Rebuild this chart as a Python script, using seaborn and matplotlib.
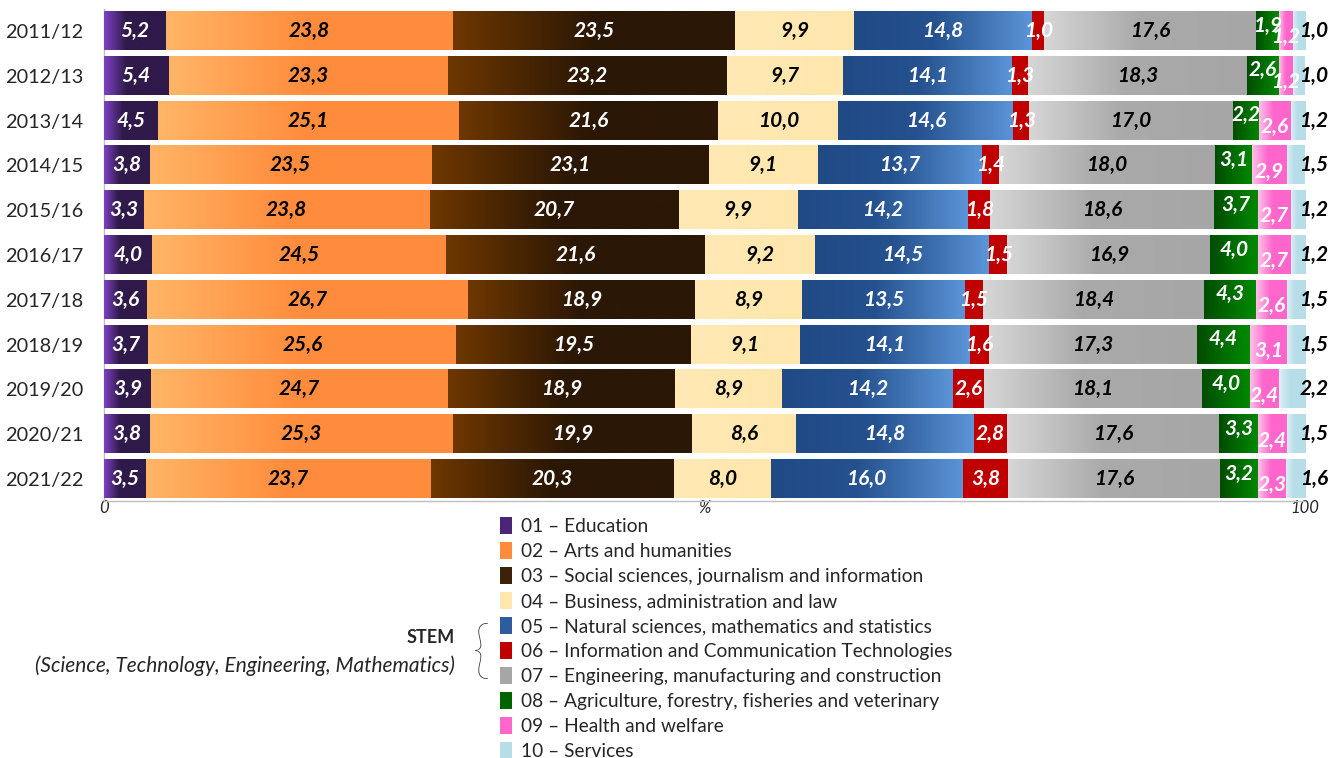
#!/usr/bin/env python3
"""
Students by field of education, 2011/12 - 2021/22 (100% stacked bars)
"""
import numpy as np
import pandas as pd
import matplotlib
matplotlib.use("Agg")
import matplotlib.pyplot as plt
from matplotlib.colors import LinearSegmentedColormap
from matplotlib.patches import Patch
import seaborn as sns

# --- data (shares in %) ---
years = ["2011/12", "2012/13", "2013/14", "2014/15", "2015/16", "2016/17",
         "2017/18", "2018/19", "2019/20", "2020/21", "2021/22"]

education   = [5.2, 5.4, 4.5, 3.8, 3.3, 4.0, 3.6, 3.7, 3.9, 3.8, 3.5]
arts        = [23.8, 23.3, 25.1, 23.5, 23.8, 24.5, 26.7, 25.6, 24.7, 25.3, 23.7]
social      = [23.5, 23.2, 21.6, 23.1, 20.7, 21.6, 18.9, 19.5, 18.9, 19.9, 20.3]
business    = [9.9, 9.7, 10.0, 9.1, 9.9, 9.2, 8.9, 9.1, 8.9, 8.6, 8.0]
natural     = [14.8, 14.1, 14.6, 13.7, 14.2, 14.5, 13.5, 14.1, 14.2, 14.8, 16.0]
ict         = [1.0, 1.3, 1.3, 1.4, 1.8, 1.5, 1.5, 1.6, 2.6, 2.8, 3.8]
engineering = [17.6, 18.3, 17.0, 18.0, 18.6, 16.9, 18.4, 17.3, 18.1, 17.6, 17.6]
agriculture = [1.9, 2.6, 2.2, 3.1, 3.7, 4.0, 4.3, 4.4, 4.0, 3.3, 3.2]
health      = [1.2, 1.2, 2.6, 2.9, 2.7, 2.7, 2.6, 3.1, 2.4, 2.4, 2.3]
services    = [1.0, 1.0, 1.2, 1.5, 1.2, 1.2, 1.5, 1.5, 2.2, 1.5, 1.6]

fields = ["01 – Education",
          "02 – Arts and humanities",
          "03 – Social sciences, journalism and information",
          "04 – Business, administration and law",
          "05 – Natural sciences, mathematics and statistics",
          "06 – Information and Communication Technologies",
          "07 – Engineering, manufacturing and construction",
          "08 – Agriculture, forestry, fisheries and veterinary",
          "09 – Health and welfare",
          "10 – Services"]

df = pd.DataFrame({
    fields[0]: education, fields[1]: arts, fields[2]: social,
    fields[3]: business, fields[4]: natural, fields[5]: ict,
    fields[6]: engineering, fields[7]: agriculture, fields[8]: health,
    fields[9]: services,
}, index=years)

# --- styling ---
# gradient stops (position, colour) per field, left -> right within a segment
stops = {
    fields[0]: [(0, "#7E42C4"), (0.35, "#2F1A4A"), (1, "#2F1A4A")],
    fields[1]: [(0, "#FFB566"), (0.5, "#FF8C3C"), (1, "#FF8C3C")],
    fields[2]: [(0, "#6E3700"), (0.5, "#2B1705"), (1, "#2B1705")],
    fields[3]: [(0, "#FFE9B4"), (1, "#FFE6AC")],
    fields[4]: [(0, "#1F4A85"), (0.45, "#25518F"), (1, "#5B95D8")],
    fields[5]: [(0, "#C00000"), (1, "#C00000")],
    fields[6]: [(0, "#D6D6D6"), (0.45, "#AAAAAA"), (1, "#A6A6A6")],
    fields[7]: [(0, "#004C00"), (0.5, "#006C00"), (1, "#008A00")],
    fields[8]: [(0, "#FFC2EA"), (0.45, "#FF66CC"), (1, "#FF66CC")],
    fields[9]: [(0, "#DCEFF5"), (0.4, "#B7DEE8"), (1, "#B7DEE8")],
}
legend_colors = ["#4B2578", "#FF8C3C", "#3F2008", "#FFE6AC", "#2F5C9E",
                 "#C00000", "#A6A6A6", "#006400", "#FF66CC", "#B7DEE8"]
label_colors = ["white", "black", "white", "black", "white",
                "white", "black", "white", "white", "black"]

sns.set_theme(style="white")
plt.rcParams['font.family'] = ['Lato', 'DejaVu Sans']

fig = plt.figure(figsize=(13.43, 7.58), dpi=100)
ax = fig.add_axes([0.0774, 0.3385, 0.8943, 0.6502])

shares = df.div(df.sum(axis=1), axis=0) * 100
cum = shares.cumsum(axis=1)
left = cum - shares

# stacked bars: longest cumulative bar first, shorter ones on top
for f, c in zip(reversed(fields), reversed(legend_colors)):
    sns.barplot(x=cum[f].values, y=years, orient="h", color=c, saturation=1,
                width=0.85, edgecolor="none", ax=ax)

# gradient fill for each segment
grad = np.linspace(0, 1, 256).reshape(1, -1)
ref_patches = ax.containers[0].patches
for f in fields:
    cmap = LinearSegmentedColormap.from_list(f, stops[f])
    for r, p in enumerate(ref_patches):
        y0, h = p.get_y(), p.get_height()
        ax.imshow(grad, cmap=cmap, aspect="auto", interpolation="bilinear",
                  extent=[left[f].iloc[r], cum[f].iloc[r], y0 + h, y0], zorder=3)

# value labels
for i, f in enumerate(fields):
    for r in range(len(years)):
        v = df[f].iloc[r]
        x = left[f].iloc[r] + shares[f].iloc[r] / 2
        y = r
        if i == 7:
            y = r - 0.12
        elif i == 8:
            y = r + 0.14
        elif i == 9:
            x = cum[f].iloc[r] + 0.75
        ax.text(x, y, f"{v:.1f}".replace(".", ","), ha="center", va="center",
                fontsize=15, fontweight="bold", fontstyle="italic",
                color=label_colors[i], zorder=5)

ax.set_xlim(0, 100)
ax.set_ylim(len(years) - 0.5, -0.5)
ax.set_xticks([0, 50, 100])
ax.set_xticklabels(["0", "%", "100"], fontstyle="italic", fontsize=12)
ax.set_xlabel("")
ax.set_ylabel("")
ax.tick_params(axis="x", length=0, pad=-1)
ax.tick_params(axis="y", length=0, pad=15, labelsize=14.3)
for s in ["top", "right"]:
    ax.spines[s].set_visible(False)
for s in ["left", "bottom"]:
    ax.spines[s].set_color("#BFBFBF")
    ax.spines[s].set_linewidth(1)

# legend
handles = [Patch(facecolor=c, edgecolor="none") for c in legend_colors]
fig.legend(handles, fields, loc="upper left", bbox_to_anchor=(0.372, 0.318),
           frameon=False, fontsize=13.8, handlelength=0.65, handleheight=1.0,
           handletextpad=0.45, labelspacing=0.36, borderaxespad=0, borderpad=0)

# STEM annotation
fig.text(0.339, 0.159, "STEM", ha="right", va="center", fontsize=13,
         fontweight="bold")
fig.text(0.339, 0.122, "(Science, Technology, Engineering, Mathematics)",
         ha="right", va="center", fontsize=15, fontstyle="italic")
fig.text(0.358, 0.137, "{", ha="center", va="center", fontsize=46,
         fontweight="light")

fig.savefig("out.png", dpi=100)
plt.close(fig)
